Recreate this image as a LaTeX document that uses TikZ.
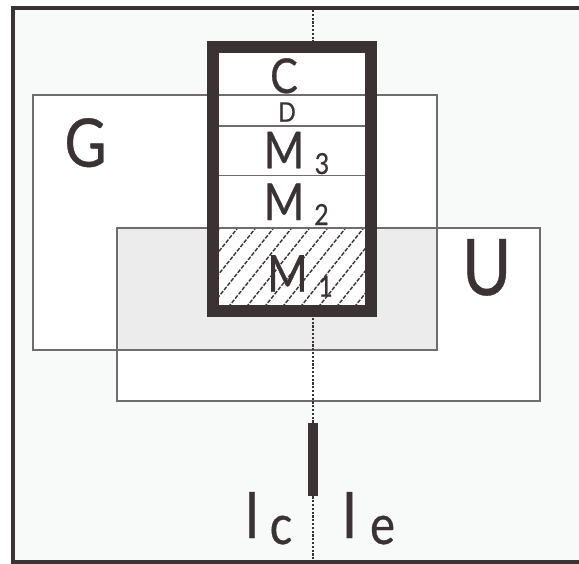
\documentclass[tikz,border=0pt]{standalone}
\usepackage{fontspec}
\setmainfont[FakeStretch=0.86,FakeBold=0.5]{Lato}
\definecolor{ink}{RGB}{59,50,52}
\definecolor{pale}{RGB}{248,250,249}
\definecolor{overlapgray}{RGB}{236,236,236}
\definecolor{edge}{RGB}{110,108,109}
\newcommand{\fs}[1]{\fontsize{#1}{#1}\selectfont}
\tikzset{
  lbl/.style={inner sep=0pt, anchor=base, text=ink},
  setline/.style={draw=edge, line width=1.2pt},
  divider/.style={draw=edge, line width=1.2pt},
  hatchline/.style={ink, line width=1.4pt, dash pattern=on 4pt off 1.5pt},
  axisline/.style={ink, line width=2.6pt, dash pattern=on 2.2pt off 1.6pt},
}
\begin{document}
\begin{tikzpicture}[x=1pt,y=-1pt]
\useasboundingbox (0,0) rectangle (579,563);
\clip (0,0) rectangle (579,563);
% outer field
\fill[pale] (13,8) rectangle (600,600);
% the two sets and their overlap
\fill[white] (33,95) rectangle (437,350);
\fill[white] (117,228) rectangle (540,401);
\fill[overlapgray] (117,228) rectangle (437,350);
\draw[setline] (33,95) rectangle (437,350);
\draw[setline] (117,228) rectangle (540,401);
% vertical axis
\coordinate (axTop) at (313,10);
\coordinate (axBot) at (313,560);
\draw[axisline] (axTop) -- (axBot);
% stacked column
\fill[white] (213,47) rectangle (371,311);
\begin{scope}
  \clip (219,228) rectangle (365,305);
  \foreach \k in {-6,...,12} {
    \draw[hatchline] (200+18*\k,320) -- ++(80,-100);
  }
\end{scope}
\foreach \yy in {95,126,175.5,228} {
  \draw[divider] (219,\yy) -- (365,\yy);
}
\draw[ink, line width=12pt] (213,47) rectangle (371,311);
% marker bar
\fill[ink] (308.3,423) rectangle (317.7,496);
% outer frame
\draw[ink, line width=4pt] (13,8) rectangle (620,562);
% labels
\node[lbl] (lC) at (284,93) {\fs{48}C};
\node[lbl] (lD) at (287,121.7) {\fs{27}D};
\node[lbl] (lM3) at (284,168.3) {\fs{51}M};
\node[lbl] (s3) at (322,174) {\fs{29}3};
\node[lbl] (lM2) at (284,220) {\fs{51}M};
\node[lbl] (s2) at (321.5,225) {\fs{29}2};
\node[lbl] (lM1) at (287.5,291.7) {\fs{51}M};
\node[lbl] (s1) at (325.5,296.7) {\fs{29}1};
\node[lbl] (lG) at (85.5,166.7) {\fs{67}G};
\node[lbl] (lU) at (486.7,295) {\fs{78}U};
\node[lbl] (lIc) at (252,538) {\fs{64}I};
\node[lbl] (lc) at (281,544) {\fs{55}c};
\node[lbl] (lIe) at (349.5,538) {\fs{64}I};
\node[lbl] (le) at (382.5,544) {\fs{55}e};
\end{tikzpicture}
\end{document}
